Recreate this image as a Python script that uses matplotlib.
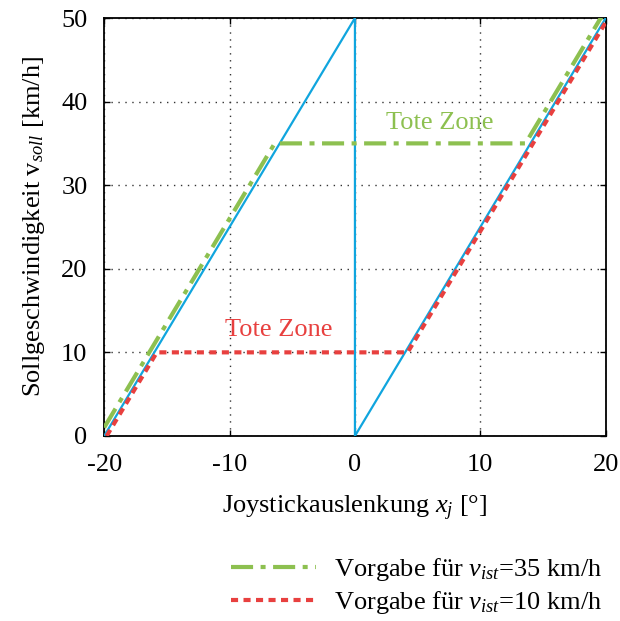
import matplotlib
matplotlib.use("Agg")
import matplotlib.pyplot as plt
from matplotlib.lines import Line2D

plt.rcParams['font.family'] = ['Liberation Serif', 'DejaVu Serif']
plt.rcParams['mathtext.fontset'] = 'custom'
plt.rcParams['mathtext.it'] = 'Liberation Serif:italic'
plt.rcParams['mathtext.rm'] = 'Liberation Serif'
plt.rcParams['axes.unicode_minus'] = False

# Data
blue_x = [-20, 0, 0, 20]
blue_y = [0, 50, 0, 50]
green_x = [-20, -6.4, 13.6, 20]
green_y = [1, 35, 35, 51]
red_x = [-19.8, -15.8, 4.2, 20]
red_y = [0, 10, 10, 49.5]

xticks = [-20, -10, 0, 10, 20]
yticks = [0, 10, 20, 30, 40, 50]

blue_c = '#10A5DE'
green_c = '#8DC050'
red_c = '#E8403F'

green_dash = (5.3, 1.8, 1.2, 1.8)
red_dash = (1.7, 1.3)

fs = 19

fig = plt.figure(figsize=(6.2, 6.21), dpi=100)
ax = fig.add_axes([0.168, 0.298, 0.809, 0.673])

ax.plot(blue_x, blue_y, color=blue_c, lw=1.6, zorder=3)
ax.plot(green_x, green_y, color=green_c, lw=3, dashes=green_dash, zorder=4)
ax.plot(red_x, red_y, color=red_c, lw=3, dashes=red_dash, zorder=4)

ax.text(6.8, 37.4, 'Tote Zone', color=green_c, fontsize=fs, ha='center', va='center')
ax.text(-6.1, 12.7, 'Tote Zone', color=red_c, fontsize=fs, ha='center', va='center')

ax.set_xlim(-20, 20)
ax.set_ylim(0, 50)
ax.set_xticks(xticks)
ax.set_yticks(yticks)
ax.tick_params(direction='in', labelsize=fs, length=4, top=True, right=True, width=1)
ax.tick_params(axis='x', pad=13)
ax.tick_params(axis='y', pad=12)
ax.grid(True, color='#333333', linestyle=(0, (1, 4)), lw=1)
for s in ax.spines.values():
    s.set_linewidth(1.3)

ax.set_xlabel(r'Joystickauslenkung $x_j$ [°]', fontsize=fs, labelpad=13)
ax.set_ylabel(r'Sollgeschwindigkeit v$_{soll}$ [km/h]', fontsize=fs, labelpad=10)

handles = [Line2D([], [], color=green_c, lw=3, dashes=green_dash),
           Line2D([], [], color=red_c, lw=3, dashes=red_dash)]
labels = [r'Vorgabe für $v_{ist}$=35 km/h', r'Vorgabe für $v_{ist}$=10 km/h']
fig.legend(handles, labels, loc='lower right', bbox_to_anchor=(1.01, -0.03),
           frameon=False, fontsize=fs, handlelength=3.2, handletextpad=0.7,
           labelspacing=0.22)

fig.savefig('out.png', dpi=100)
